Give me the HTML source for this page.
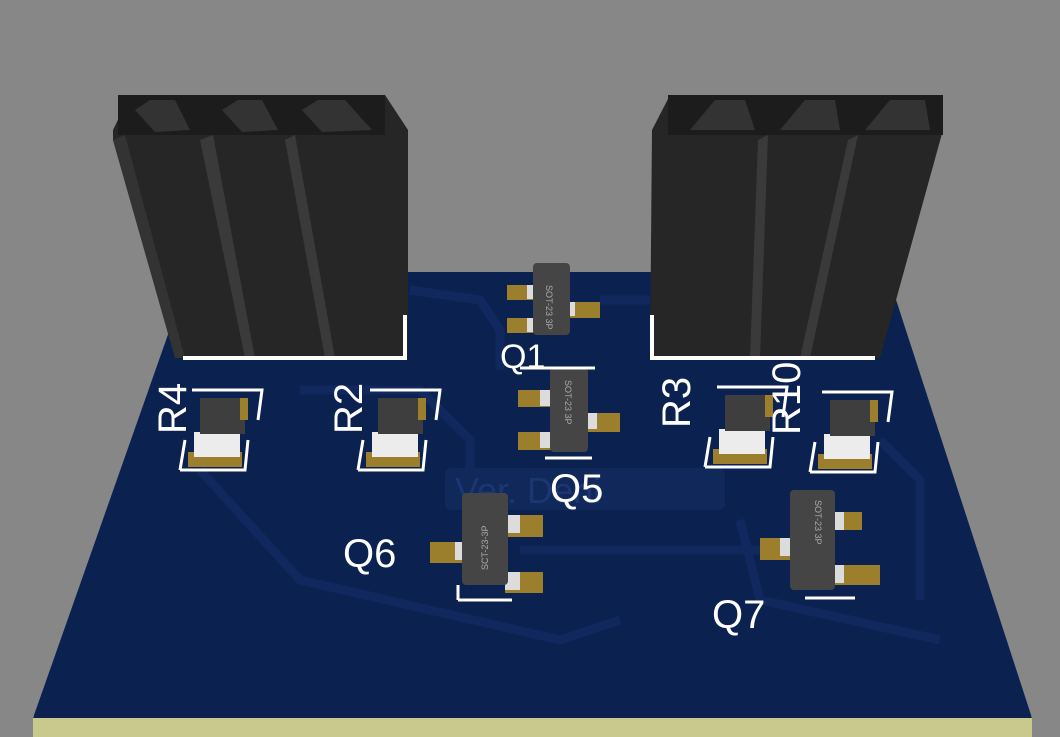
<!DOCTYPE html>
<html><head><style>html,body{margin:0;padding:0;background:#878787;overflow:hidden}svg{display:block}</style></head>
<body>
<svg width="1060" height="737" viewBox="0 0 1060 737" xmlns="http://www.w3.org/2000/svg" font-family="Liberation Sans, sans-serif">
<rect width="1060" height="737" fill="#878787"/>
<polygon points="33,716 1032,716 1032,737 33,737" fill="#c9c98e"/>
<polygon points="190,272 887,272 1032,718 33,718" fill="#0b2150"/>
<g fill="none" stroke="#132c64" stroke-width="9" opacity="0.7">
<path d="M200,470 L300,580 L560,640 L620,620"/>
<path d="M300,390 L420,390 L470,440 L470,470"/>
<path d="M410,290 L480,300 L500,330 L500,370"/>
<path d="M740,520 L760,600 L940,640"/>
<path d="M880,440 L920,480 L920,600"/>
<path d="M600,300 L650,300"/>
<path d="M520,550 L760,550"/>
</g>
<rect x="445" y="468" width="280" height="42" rx="6" fill="#11285a"/>
<text x="455" y="503" font-size="36" fill="#1b3672">Ver. Deni</text>
<g>
<polygon points="113,130 130,95 385,95 408,130 408,358 175,358 113,140" fill="#262626"/>
<rect x="118" y="95" width="95" height="40" fill="#1c1c1c"/>
<rect x="205" y="95" width="90" height="40" fill="#1c1c1c"/>
<rect x="290" y="95" width="95" height="40" fill="#1c1c1c"/>
<polygon points="135,110 150,100 175,100 190,130 155,132" fill="#333"/>
<polygon points="222,110 238,100 262,100 278,130 242,132" fill="#333"/>
<polygon points="302,110 318,100 345,100 372,130 322,132" fill="#333"/>
<polygon points="200,140 213,135 255,358 245,358" fill="#3a3a3a"/>
<polygon points="285,140 295,135 335,358 325,358" fill="#3a3a3a"/>
<polygon points="113,140 125,135 185,358 175,358" fill="#333"/>
<path d="M183,358 L405,358 L405,315" stroke="#fff" stroke-width="4" fill="none"/>
</g>
<g>
<polygon points="652,130 670,95 920,95 943,130 880,358 650,358" fill="#262626"/>
<rect x="668" y="95" width="95" height="40" fill="#1c1c1c"/>
<rect x="758" y="95" width="90" height="40" fill="#1c1c1c"/>
<rect x="840" y="95" width="103" height="40" fill="#1c1c1c"/>
<polygon points="690,130 715,100 745,100 755,130" fill="#333"/>
<polygon points="780,130 805,100 835,100 840,130" fill="#333"/>
<polygon points="865,130 890,100 925,100 930,130" fill="#333"/>
<polygon points="758,140 768,135 760,358 750,358" fill="#3a3a3a"/>
<polygon points="848,140 858,135 810,358 800,358" fill="#3a3a3a"/>
<path d="M652,315 L652,358 L875,358" stroke="#fff" stroke-width="4" fill="none"/>
</g>
<g id="res">
<path d="M180,470 L185,440 M180,470 L245,470 L248,440 M192,390 L262,390 L258,420" stroke="#fff" stroke-width="3" fill="none"/>
<rect x="188" y="452" width="54" height="15" fill="#9c7f2c"/>
<rect x="194" y="432" width="46" height="25" fill="#ececec"/>
<rect x="200" y="398" width="45" height="36" fill="#3e3e3e"/>
<rect x="240" y="398" width="8" height="22" fill="#9c7f2c"/>
</g>
<use href="#res" x="178"/>
<use href="#res" x="525" y="-3"/>
<use href="#res" x="630" y="2"/>
<g fill="#9c7f2c">
<rect x="507" y="285" width="28" height="15"/><rect x="507" y="318" width="28" height="15"/><rect x="568" y="302" width="32" height="16"/>
<rect x="518" y="390" width="35" height="17"/><rect x="518" y="432" width="35" height="18"/><rect x="585" y="413" width="35" height="19"/>
<rect x="430" y="542" width="35" height="21"/><rect x="505" y="515" width="38" height="22"/><rect x="505" y="572" width="38" height="21"/>
<rect x="760" y="538" width="33" height="22"/><rect x="832" y="512" width="30" height="18"/><rect x="832" y="565" width="48" height="20"/>
</g>
<g fill="#dcdcdc">
<rect x="527" y="285" width="10" height="14"/><rect x="527" y="318" width="10" height="14"/><rect x="565" y="302" width="10" height="14"/>
<rect x="540" y="390" width="12" height="16"/><rect x="540" y="432" width="12" height="16"/><rect x="585" y="413" width="12" height="16"/>
<rect x="455" y="542" width="12" height="18"/><rect x="505" y="515" width="15" height="18"/><rect x="505" y="572" width="15" height="18"/>
<rect x="780" y="538" width="14" height="18"/><rect x="830" y="512" width="14" height="18"/><rect x="830" y="565" width="14" height="18"/>
</g>
<g fill="#454545">
<rect x="533" y="263" width="37" height="72" rx="4"/>
<rect x="550" y="368" width="38" height="84" rx="4"/>
<rect x="462" y="493" width="46" height="92" rx="4"/>
<rect x="790" y="490" width="45" height="100" rx="4"/>
</g>
<g fill="#aaa" font-size="9">
<text transform="translate(546,285) rotate(90)">SOT-23 3P</text>
<text transform="translate(565,380) rotate(90)">SOT-23 3P</text>
<text transform="translate(488,570) rotate(-90)">SCT-23-3P</text>
<text transform="translate(815,500) rotate(90)">SOT-23 3P</text>
</g>
<g stroke="#fff" stroke-width="3" fill="none">
<path d="M520,368 L595,368"/><path d="M545,458 L592,458"/>
<path d="M458,600 L512,600 M458,600 L458,585"/>
<path d="M805,598 L855,598"/>
</g>
<g fill="#fff" font-size="40">
<text x="500" y="368" font-size="34">Q1</text>
<text x="550" y="502">Q5</text>
<text x="343" y="567">Q6</text>
<text x="712" y="628">Q7</text>
<text transform="translate(186,434) rotate(-90)">R4</text>
<text transform="translate(362,434) rotate(-90)">R2</text>
<text transform="translate(690,428) rotate(-90)">R3</text>
<text transform="translate(800,435) rotate(-90)">R10</text>
</g>
</svg>
</body></html>
